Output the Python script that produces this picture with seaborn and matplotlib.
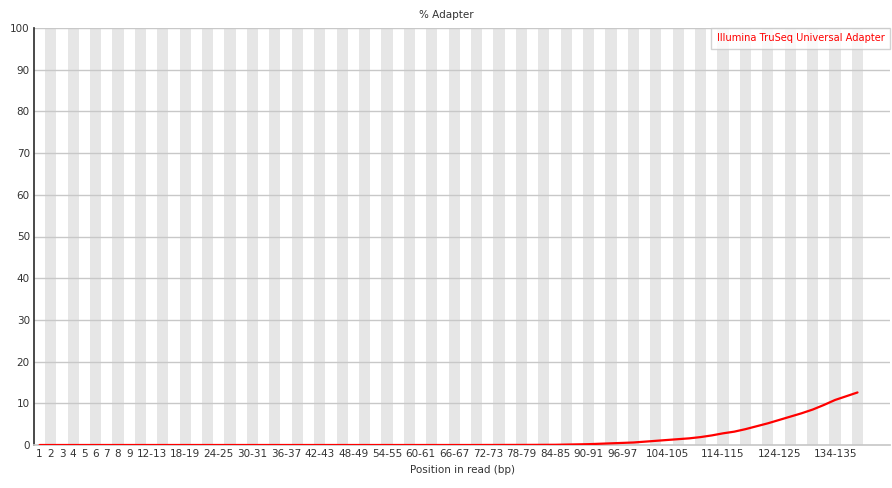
import numpy as np
import pandas as pd
import matplotlib.pyplot as plt
import seaborn as sns

sns.set_theme(style="white")
plt.rcParams['font.family'] = ['DejaVu Sans']

# position bins (FastQC grouping)
bins = [str(i) for i in range(1, 10)] + [f"{i}-{i + 1}" for i in range(10, 140, 2)]

# % adapter per bin (Illumina TruSeq Universal Adapter)
adapter = [0.0] * 40 + [0.01, 0.01, 0.02, 0.02, 0.03, 0.04,
           0.05, 0.1, 0.15, 0.2, 0.3, 0.4, 0.5, 0.6, 0.8, 1.0,
           1.2, 1.4, 1.6, 1.9, 2.3, 2.8, 3.2, 3.8, 4.5, 5.2,
           6.0, 6.8, 7.6, 8.5, 9.6, 10.8, 11.7, 12.6]

shown = ["1", "2", "3", "4", "5", "6", "7", "8", "9", "12-13", "18-19", "24-25",
         "30-31", "36-37", "42-43", "48-49", "54-55", "60-61", "66-67", "72-73",
         "78-79", "84-85", "90-91", "96-97", "104-105", "114-115", "124-125", "134-135"]

df = pd.DataFrame({"pos": np.arange(len(bins)), "bin": bins, "pct": adapter})

fig = plt.figure(figsize=(8.92, 4.88), dpi=100)
ax = fig.add_axes([34 / 892, 1 - 445 / 488, (890 - 34) / 892, (445 - 28) / 488])

# alternating grey stripes
for i in range(1, len(bins), 2):
    ax.axvspan(i - 0.5, i + 0.5, color="#e6e6e6", lw=0, zorder=0)

for y in range(10, 101, 10):
    ax.axhline(y, color="#c8c8c8", lw=1, zorder=1)

sns.lineplot(data=df, x="pos", y="pct", color="#ff0000", lw=1.6, ax=ax, zorder=3,
             label="Illumina TruSeq Universal Adapter")

ax.set_xlim(-0.5, 75.9)
ax.set_ylim(0, 100)
ax.set_yticks(range(0, 101, 10))
ax.set_xticks([bins.index(b) for b in shown])
ax.set_xticklabels(shown)
ax.tick_params(axis="both", labelsize=7.5, length=0, pad=3, colors="#333333")
for s in ["top", "right"]:
    ax.spines[s].set_visible(False)
ax.spines["left"].set_color("#333333")
ax.spines["bottom"].set_color("#c8c8c8")

leg = ax.legend(loc="upper right", fontsize=7.1, frameon=True, fancybox=False,
                handlelength=0, handletextpad=0, borderpad=0.55, borderaxespad=0)
leg.get_frame().set_edgecolor("#c8c8c8")
leg.get_frame().set_linewidth(1)
for t in leg.get_texts():
    t.set_color("#ff0000")
for h in leg.legend_handles:
    h.set_visible(False)

ax.set_xlabel("Position in read (bp)", fontsize=7.5, color="#333333", labelpad=4)
ax.set_ylabel("")
fig.text(0.5, 1 - 15 / 488, "% Adapter", ha="center", va="center", fontsize=7.5, color="#333333")

plt.savefig("out.png", dpi=100)
